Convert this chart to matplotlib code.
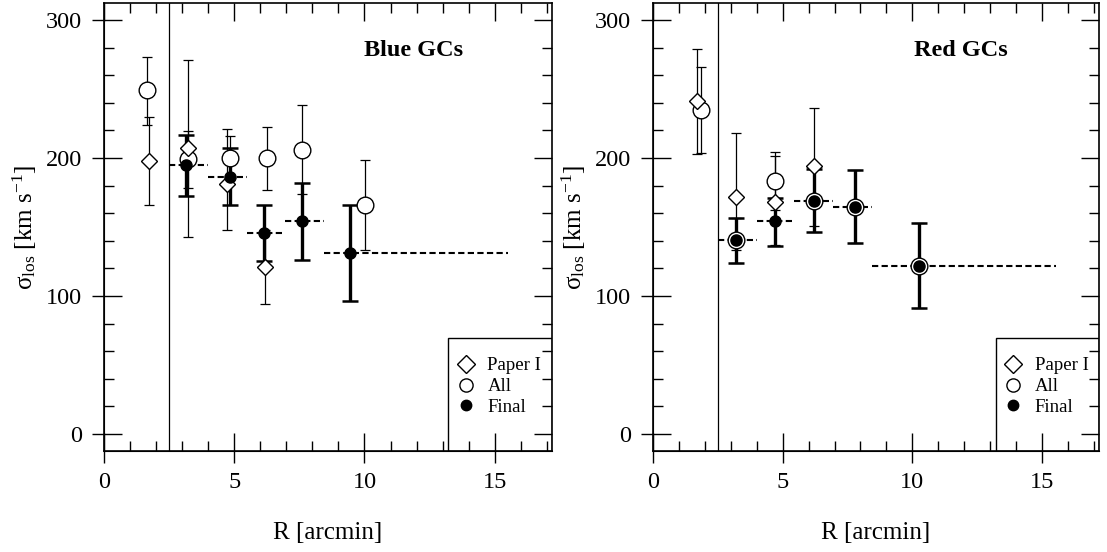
import matplotlib
matplotlib.use("Agg")
import matplotlib.pyplot as plt
from matplotlib.lines import Line2D
from matplotlib.patches import Rectangle
from matplotlib.ticker import MultipleLocator

plt.rcParams['font.family'] = ['Liberation Serif', 'DejaVu Serif']
plt.rcParams['mathtext.fontset'] = 'custom'
plt.rcParams['mathtext.rm'] = 'Liberation Serif'
plt.rcParams['mathtext.it'] = 'Liberation Serif:italic'

# ---- Blue GCs ----
blue_paper_R = [1.72, 3.21, 4.72, 6.20]
blue_paper_sig = [198, 207, 181, 121]
blue_paper_lo = [32, 64, 33, 27]
blue_paper_hi = [32, 64, 40, 27]

blue_all_R = [1.65, 3.21, 4.82, 6.25, 7.62, 10.02]
blue_all_sig = [249, 199, 200, 200, 206, 166]
blue_all_lo = [25, 20.5, 15, 23.4, 32.3, 32.7]
blue_all_hi = [24.4, 20.6, 16, 22.5, 32.2, 32.6]

blue_final_R = [3.16, 4.85, 6.15, 7.59, 9.44]
blue_final_sig = [195, 186.5, 146, 154, 131]
blue_final_lo = [22.3, 20.8, 20.4, 27.9, 34.6]
blue_final_hi = [21.7, 21.0, 20.3, 28.1, 34.7]
blue_bins = [2.5, 4.0, 5.5, 6.95, 8.45, 15.5]

# ---- Red GCs ----
red_paper_R = [1.71, 3.22, 4.72, 6.22]
red_paper_sig = [241, 172, 168, 194]
red_paper_lo = [38, 39, 31, 43]
red_paper_hi = [38, 46, 36, 42]

red_all_R = [1.86, 3.22, 4.72, 6.22, 7.80, 10.27]
red_all_sig = [235, 140.6, 183, 168.8, 164.7, 122]
red_all_lo = [31.4, 16.9, 20.7, 22.7, 26.1, 30.9]
red_all_hi = [31.0, 15.7, 18.2, 23.0, 26.6, 31.1]

red_final_R = [3.22, 4.72, 6.22, 7.80, 10.27]
red_final_sig = [140.6, 154.3, 168.8, 164.7, 122]
red_final_lo = [16.9, 18.1, 22.7, 26.1, 30.9]
red_final_hi = [15.7, 16.9, 23.0, 26.6, 31.1]
red_bins = [2.5, 4.0, 5.45, 6.95, 8.45, 15.55]

r_inner = 2.5

fig = plt.figure(figsize=(11.07, 5.52), dpi=100)
ax1 = fig.add_axes([104/1107, 101/552, 448/1107, 448/552])
ax2 = fig.add_axes([653/1107, 101/552, 446/1107, 448/552])


def panel(ax, title, pR, ps, plo, phi, aR, as_, alo, ahi, fR, fs, flo, fhi, bins):
    # thin error bars
    ax.errorbar(pR, ps, yerr=[plo, phi], fmt='none', ecolor='k', elinewidth=0.9,
                capsize=3.3, capthick=0.9, zorder=2)
    ax.errorbar(aR, as_, yerr=[alo, ahi], fmt='none', ecolor='k', elinewidth=0.9,
                capsize=3.3, capthick=0.9, zorder=2)
    # thick error bars
    ax.errorbar(fR, fs, yerr=[flo, fhi], fmt='none', ecolor='k', elinewidth=2.4,
                capsize=6, capthick=1.8, zorder=3)
    # bin widths
    ax.hlines(fs, bins[:-1], bins[1:], colors='k', linewidth=1.5,
              linestyles=(0, (3, 1.6)), zorder=3)
    ax.plot(aR, as_, 'o', ms=12, mfc='white', mec='k', mew=1.0, ls='none', zorder=4)
    ax.plot(pR, ps, 'D', ms=8.5, mfc='white', mec='k', mew=1.0, ls='none', zorder=5)
    ax.plot(fR, fs, 'o', ms=8, mfc='k', mec='k', ls='none', zorder=6)

    ax.axvline(r_inner, color='k', lw=0.9, zorder=1)

    ax.set_xlim(0, 17.2)
    ax.set_ylim(-12.3, 312.3)
    ax.xaxis.set_major_locator(MultipleLocator(5))
    ax.xaxis.set_minor_locator(MultipleLocator(1))
    ax.yaxis.set_major_locator(MultipleLocator(100))
    ax.yaxis.set_minor_locator(MultipleLocator(20))
    ax.tick_params(which='both', direction='in', top=True, right=True, width=1.0)
    ax.tick_params(which='major', length=13)
    ax.tick_params(which='minor', length=7)
    ax.tick_params(axis='x', which='major', pad=15, labelsize=17.5)
    ax.tick_params(axis='y', which='major', pad=16, labelsize=17.5)
    for s in ax.spines.values():
        s.set_linewidth(1.2)

    # outward parts of the major ticks on left and bottom
    sx = ax.secondary_xaxis('bottom')
    sx.set_xticks([0, 5, 10, 15])
    sx.tick_params(direction='out', length=8.4, width=1.0, labelbottom=False)
    sy = ax.secondary_yaxis('left')
    sy.set_yticks([0, 100, 200, 300])
    sy.tick_params(direction='out', length=8.4, width=1.0, labelleft=False)

    ax.set_xlabel('R [arcmin]', fontsize=18, labelpad=21)
    ax.set_ylabel(r'σ$_{\rm los}$ [km s$^{-1}$]', fontsize=18, labelpad=5)

    ax.text(0.69, 0.893, title, transform=ax.transAxes, fontsize=17.5,
            fontweight='bold', ha='center', va='center')

    # legend box
    ax.add_patch(Rectangle((0.768, 0.0), 0.232, 0.252, transform=ax.transAxes,
                           fill=False, ec='k', lw=1.0, zorder=7))
    handles = [
        Line2D([], [], marker='D', ms=9, mfc='white', mec='k', ls='none'),
        Line2D([], [], marker='o', ms=9.5, mfc='white', mec='k', ls='none'),
        Line2D([], [], marker='o', ms=7.5, mfc='k', mec='k', ls='none'),
    ]
    ax.legend(handles, ['Paper I', 'All', 'Final'], loc='upper left',
              bbox_to_anchor=(0.77, 0.222), frameon=False, fontsize=13.5,
              handlelength=1.2, handletextpad=0.55, labelspacing=0.2,
              borderpad=0.3, borderaxespad=0)


panel(ax1, 'Blue GCs', blue_paper_R, blue_paper_sig, blue_paper_lo, blue_paper_hi,
      blue_all_R, blue_all_sig, blue_all_lo, blue_all_hi,
      blue_final_R, blue_final_sig, blue_final_lo, blue_final_hi, blue_bins)
panel(ax2, 'Red GCs', red_paper_R, red_paper_sig, red_paper_lo, red_paper_hi,
      red_all_R, red_all_sig, red_all_lo, red_all_hi,
      red_final_R, red_final_sig, red_final_lo, red_final_hi, red_bins)

fig.savefig('out.png', dpi=100)
